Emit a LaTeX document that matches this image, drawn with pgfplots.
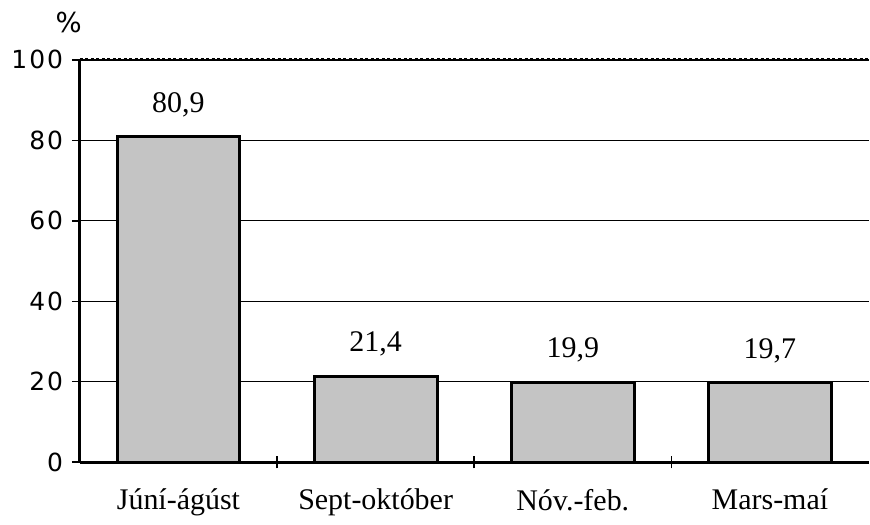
\documentclass[border=0pt]{standalone}
\usepackage{fontspec}
\setmainfont{Liberation Serif}
\newfontfamily\tickfont[LetterSpace=8]{DejaVu Sans}
\newfontfamily\sansfont{DejaVu Sans}
\usepackage{pgfplots}
\pgfplotsset{compat=1.18}
\definecolor{barfill}{RGB}{196,196,196}
\begin{document}
\begin{tikzpicture}
\begin{axis}[
  scale only axis, width=316pt, height=161.2pt,
  xmin=-0.5, xmax=3.5, ymin=0, ymax=100,
  clip=false,
  axis x line*=bottom, axis y line*=left,
  axis line style={line width=1.2pt, -},
  /pgf/number format/assume math mode=true,
  ytick={0,20,40,60,80,100},
  yticklabels={0,20,40,60,80,100},
  yticklabel style={font=\tickfont\fontsize{10}{12}\selectfont},
  ymajorgrids, grid style={black, line width=0.5pt},
  major tick length=3.2pt, tick align=outside,
  major y tick style={black, line width=0.6pt},
  xtick={0,1,2,3},
  xticklabels={Júní-ágúst,Sept-október,Nóv.-feb.,Mars-maí},
  xticklabel style={font=\fontsize{12}{14}\selectfont, yshift=-4pt},
  major x tick style={draw=none},
  extra x ticks={0.5,1.5,2.5}, extra x tick labels={},
  extra x tick style={major x tick style={draw=black, line width=0.6pt}, tick align=center, major tick length=5pt, grid=none},
]
\addplot[ybar, bar width=49.2pt, fill=barfill, draw=black, line width=1.2pt,
  nodes near coords={\pgfmathprintnumber[use comma,fixed,fixed zerofill,precision=1,assume math mode=true]{\pgfplotspointmeta}},
  every node near coord/.append style={font=\fontsize{12}{14}\selectfont, yshift=4pt, black}]
  coordinates {(0,80.9) (1,21.4) (2,19.9) (3,19.7)};
\draw[line width=1.2pt, densely dotted] (rel axis cs:0,1) -- (rel axis cs:1,1);
\node[font=\sansfont\fontsize{11}{12}\selectfont, anchor=south east, inner sep=0pt] at (rel axis cs:0.003,1.067) {\%};
\coordinate (O) at (rel axis cs:0,0);
\end{axis}
\path (O) ++(-32pt,-18.8pt) rectangle ++(348pt,204pt);
\end{tikzpicture}
\end{document}
